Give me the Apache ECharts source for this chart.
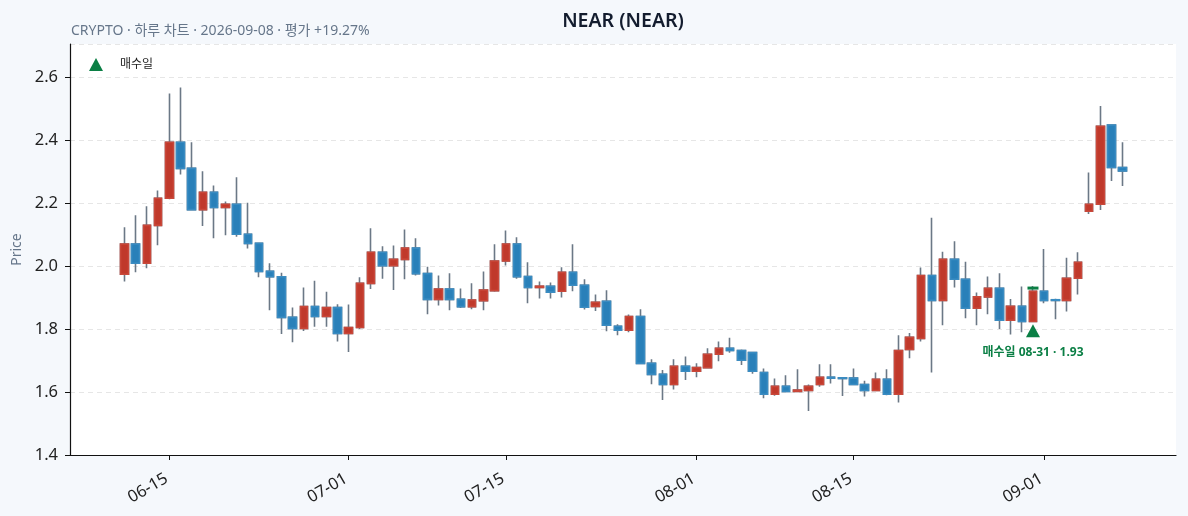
<!DOCTYPE html>
<html>
<head>
<meta charset="utf-8">
<script src="https://cdn.jsdelivr.net/npm/echarts@6/dist/echarts.min.js"></script>
<style>
  html, body { margin: 0; padding: 0; background: #f5f8fc; }
  #chart { width: 1188px; height: 516px; }
</style>
</head>
<body>
<div id="chart"></div>
<script>
// 일봉 날짜 (2026)
const dates = [
  '06-11','06-12','06-13','06-14','06-15','06-16','06-17','06-18','06-19','06-20',
  '06-21','06-22','06-23','06-24','06-25','06-26','06-27','06-28','06-29','06-30',
  '07-01','07-02','07-03','07-04','07-05','07-06','07-07','07-08','07-09','07-10',
  '07-11','07-12','07-13','07-14','07-15','07-16','07-17','07-18','07-19','07-20',
  '07-21','07-22','07-23','07-24','07-25','07-26','07-27','07-28','07-29','07-30',
  '07-31','08-01','08-02','08-03','08-04','08-05','08-06','08-07','08-08','08-09',
  '08-10','08-11','08-12','08-13','08-14','08-15','08-16','08-17','08-18','08-19',
  '08-20','08-21','08-22','08-23','08-24','08-25','08-26','08-27','08-28','08-29',
  '08-30','08-31','09-01','09-02','09-03','09-04','09-05','09-06','09-07','09-08'
]

const opens = [
  1.974, 2.070, 2.009, 2.129, 2.215, 2.393, 2.310, 2.179, 2.234, 2.186,
  2.196, 2.101, 2.072, 1.983, 1.966, 1.837, 1.802, 1.871, 1.840, 1.868,
  1.786, 1.805, 1.945, 2.044, 2.001, 2.021, 2.057, 1.976, 1.894, 1.927,
  1.894, 1.871, 1.890, 1.922, 2.016, 2.070, 1.967, 1.932, 1.936, 1.920,
  1.980, 1.939, 1.872, 1.888, 1.809, 1.796, 1.840, 1.691, 1.656, 1.624,
  1.682, 1.666, 1.677, 1.720, 1.739, 1.732, 1.725, 1.662, 1.593, 1.618,
  1.602, 1.605, 1.624, 1.647, 1.645, 1.644, 1.624, 1.605, 1.640, 1.593,
  1.735, 1.770, 1.970, 1.891, 2.021, 1.958, 1.866, 1.902, 1.929, 1.828,
  1.872, 1.824, 1.920, 1.893, 1.891, 1.961, 2.174, 2.196, 2.448, 2.313
]
const closes = [
  2.070, 2.009, 2.129, 2.215, 2.393, 2.310, 2.179, 2.234, 2.186, 2.196,
  2.101, 2.072, 1.983, 1.966, 1.837, 1.802, 1.871, 1.840, 1.868, 1.786,
  1.805, 1.945, 2.044, 2.001, 2.021, 2.057, 1.976, 1.894, 1.927, 1.894,
  1.871, 1.892, 1.924, 2.016, 2.070, 1.966, 1.932, 1.936, 1.917, 1.980,
  1.939, 1.869, 1.885, 1.812, 1.796, 1.840, 1.691, 1.656, 1.624, 1.682,
  1.666, 1.678, 1.720, 1.739, 1.732, 1.701, 1.666, 1.593, 1.618, 1.602,
  1.606, 1.618, 1.647, 1.644, 1.643, 1.624, 1.605, 1.640, 1.593, 1.732,
  1.774, 1.970, 1.891, 2.021, 1.958, 1.866, 1.902, 1.929, 1.828, 1.872,
  1.824, 1.920, 1.891, 1.891, 1.961, 2.012, 2.196, 2.444, 2.313, 2.302
]
const lows = [
  1.951, 1.980, 1.993, 2.066, 2.212, 2.291, 2.177, 2.127, 2.088, 2.098,
  2.093, 2.056, 1.964, 1.860, 1.784, 1.758, 1.794, 1.807, 1.807, 1.760,
  1.727, 1.800, 1.927, 1.960, 1.924, 1.958, 1.970, 1.847, 1.875, 1.860,
  1.867, 1.863, 1.860, 1.918, 2.002, 1.960, 1.882, 1.897, 1.897, 1.900,
  1.920, 1.862, 1.857, 1.793, 1.780, 1.790, 1.689, 1.625, 1.575, 1.608,
  1.638, 1.647, 1.676, 1.698, 1.725, 1.686, 1.658, 1.580, 1.588, 1.600,
  1.602, 1.540, 1.617, 1.627, 1.587, 1.623, 1.586, 1.604, 1.590, 1.567,
  1.707, 1.760, 1.662, 1.812, 1.932, 1.834, 1.812, 1.847, 1.800, 1.783,
  1.790, 1.824, 1.882, 1.831, 1.856, 1.910, 2.165, 2.178, 2.270, 2.254
]
const highs = [
  2.123, 2.161, 2.190, 2.240, 2.548, 2.567, 2.393, 2.301, 2.256, 2.205,
  2.282, 2.201, 2.075, 2.009, 1.979, 1.868, 1.932, 1.953, 1.918, 1.879,
  1.878, 1.964, 2.120, 2.063, 2.065, 2.116, 2.088, 1.998, 1.970, 1.977,
  1.929, 1.945, 1.983, 2.069, 2.113, 2.091, 2.012, 1.951, 1.948, 1.996,
  2.069, 1.958, 1.910, 1.923, 1.815, 1.846, 1.863, 1.704, 1.670, 1.704,
  1.713, 1.691, 1.739, 1.760, 1.772, 1.735, 1.727, 1.675, 1.643, 1.653,
  1.672, 1.624, 1.688, 1.688, 1.646, 1.675, 1.636, 1.662, 1.672, 1.780,
  1.787, 1.995, 2.153, 2.045, 2.079, 2.014, 1.916, 1.967, 1.977, 1.895,
  1.935, 1.937, 2.054, 1.896, 2.026, 2.044, 2.297, 2.508, 2.450, 2.393
]

const tickDates = ['06-15', '07-01', '07-15', '08-01', '08-15', '09-01']
const buyDate = '08-31'
const buyPrice = 1.93

const UP = '#c0392b'
const DOWN = '#2980b9'
const WICK = '#6b7886'
const GREEN = '#0b7f45'
const FONT = '"Noto Sans", "Noto Sans CJK KR", sans-serif'

const tickIdx = tickDates.map(d => dates.indexOf(d))
const buyIdx = dates.indexOf(buyDate)

// 심지용 (전체 고저)
const wickData = dates.map((d, i) => [i, opens[i], closes[i], lows[i], highs[i]])
// 몸통용 (몸통 범위만)
const bodyData = dates.map((d, i) => [i, opens[i], closes[i], Math.min(opens[i], closes[i]), Math.max(opens[i], closes[i])])

const myChart = echarts.init(document.getElementById('chart'))

const option = {
  animation: false,
  backgroundColor: '#f5f8fc',
  textStyle: { fontFamily: FONT },
  graphic: [
    {
      type: 'text', x: 623, y: 21, z: 10,
      style: { text: 'NEAR (NEAR)', fill: '#131c2e', font: '600 19.5px ' + FONT, align: 'center', verticalAlign: 'middle' }
    },
    {
      type: 'text', x: 71, y: 31, z: 10,
      style: { text: 'CRYPTO · 하루 차트 · 2026-09-08 · 평가 +19.27%', fill: '#66768a', font: '14px ' + FONT, align: 'left', verticalAlign: 'middle' }
    }
  ],
  legend: {
    left: 84,
    top: 53,
    itemWidth: 14,
    itemHeight: 13,
    textStyle: { fontSize: 12, color: '#222', padding: [0, 0, 0, 12] },
    data: [{ name: '매수일', icon: 'triangle', itemStyle: { color: GREEN, opacity: 1 } }]
  },
  grid: {
    left: 70,
    right: 12,
    top: 44,
    bottom: 61,
    show: true,
    backgroundColor: '#ffffff',
    borderWidth: 0
  },
  xAxis: {
    type: 'value',
    min: -4.85,
    max: 93.75,
    axisLine: { show: true, onZero: false, lineStyle: { color: '#111', width: 1.2 } },
    axisTick: { show: true, length: 5, customValues: tickIdx, lineStyle: { color: '#111' } },
    axisLabel: {
      customValues: tickIdx,
      formatter: v => dates[v] || '',
      rotate: 30,
      fontSize: 16.5,
      color: '#222',
      margin: 21,
      padding: [0, 3, 0, 0]
    },
    splitLine: { show: false }
  },
  yAxis: {
    type: 'value',
    min: 1.4,
    max: 2.705,
    interval: 0.2,
    name: 'Price',
    nameLocation: 'middle',
    nameGap: 45,
    nameTextStyle: { color: '#66768a', fontSize: 14 },
    axisLine: { show: true, onZero: false, lineStyle: { color: '#111', width: 1.2 } },
    axisTick: { show: true, length: 5, lineStyle: { color: '#111' } },
    axisLabel: {
      formatter: v => v.toFixed(1),
      showMaxLabel: false,
      fontSize: 16.5,
      color: '#222',
      margin: 12
    },
    splitLine: { show: true, lineStyle: { color: '#e6e6e6', type: [5, 4], width: 1 } }
  },
  series: [
    {
      name: 'wick',
      type: 'candlestick',
      encode: { x: 0, y: [1, 2, 3, 4] },
      data: wickData,
      barWidth: 8,
      z: 2,
      itemStyle: { color: UP, color0: DOWN, borderColor: WICK, borderColor0: WICK, borderWidth: 1.6 }
    },
    {
      name: 'body',
      type: 'candlestick',
      encode: { x: 0, y: [1, 2, 3, 4] },
      data: bodyData,
      barWidth: 8,
      z: 3,
      itemStyle: { color: UP, color0: DOWN, borderColor: '#c9483a', borderColor0: '#3a8cc2', borderWidth: 1.6 }
    },
    {
      name: '매수가',
      type: 'scatter',
      z: 5,
      symbol: 'rect',
      symbolSize: [11, 3],
      itemStyle: { color: GREEN, opacity: 1 },
      data: [[buyIdx, buyPrice]]
    },
    {
      name: '매수일',
      type: 'scatter',
      z: 5,
      symbol: 'triangle',
      symbolSize: [14, 13],
      itemStyle: { color: GREEN, opacity: 1 },
      label: {
        show: true,
        position: 'bottom',
        distance: 9,
        formatter: '매수일 ' + buyDate + ' · ' + buyPrice.toFixed(2),
        color: GREEN,
        fontSize: 12,
        fontWeight: 'bold'
      },
      data: [[buyIdx, lows[buyIdx] * 0.984]]
    }
  ]
}

myChart.setOption(option)
</script>
</body>
</html>
